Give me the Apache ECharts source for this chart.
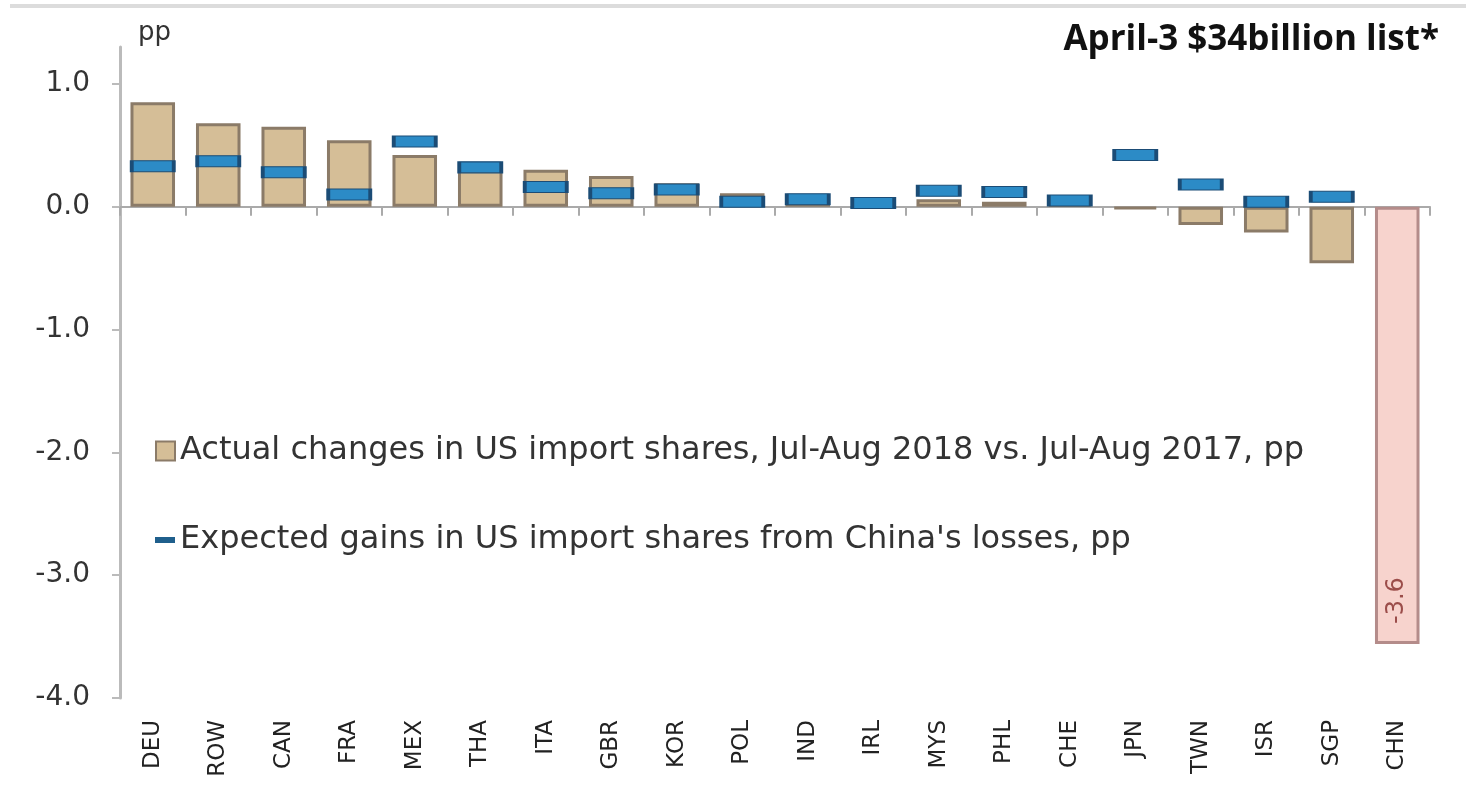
<!DOCTYPE html>
<html>
<head>
<meta charset="utf-8">
<script src="https://cdn.jsdelivr.net/npm/echarts@6/dist/echarts.min.js"></script>
<style>
html, body { margin: 0; padding: 0; background: #fff; }
#chart { width: 1466px; height: 788px; }
</style>
</head>
<body>
<div id="chart"></div>
<script>
var countries = ['DEU', 'ROW', 'CAN', 'FRA', 'MEX', 'THA', 'ITA', 'GBR', 'KOR', 'POL',
	'IND', 'IRL', 'MYS', 'PHL', 'CHE', 'JPN', 'TWN', 'ISR', 'SGP', 'CHN'];
var actualChange = [0.85, 0.68, 0.65, 0.54, 0.42, 0.35, 0.30, 0.25, 0.19, 0.11,
	0.09, 0.05, 0.06, 0.04, 0.02, -0.02, -0.15, -0.21, -0.46, -3.56];
var expectedGain = [0.33, 0.37, 0.28, 0.10, 0.53, 0.32, 0.16, 0.11, 0.14, 0.04,
	0.06, 0.03, 0.13, 0.12, 0.05, 0.42, 0.18, 0.04, 0.08, '-'];
var yTicks = [-4, -3, -2, -1, 0, 1];

var actualName = 'Actual changes in US import shares, Jul-Aug 2018 vs. Jul-Aug 2017, pp';
var expectedName = 'Expected gains in US import shares from China\'s losses, pp';

var chart = echarts.init(document.getElementById('chart'));

var barData = actualChange.map(function(v, i) {
	if (countries[i] == 'CHN') {
		return {
			value: v,
			itemStyle: { color: '#f7d3cd', borderColor: '#b48c8a' },
			label: {
				show: true,
				position: 'insideBottom',
				rotate: 90,
				align: 'left',
				verticalAlign: 'middle',
				distance: 20,
				fontSize: 24,
				color: '#9b4d4a',
				fontFamily: 'DejaVu Sans',
				formatter: function(p) { return p.value.toFixed(1); }
			}
		};
	}
	return v;
});

chart.setOption({
	animation: false,
	textStyle: { fontFamily: 'DejaVu Sans' },
	title: {
		text: 'April-3 $34billion list*',
		right: 22,
		top: 18,
		textStyle: { fontSize: 35, fontWeight: 'bold', color: '#111', fontFamily: 'Open Sans' }
	},
	graphic: [{
		type: 'line',
		shape: { x1: 10, y1: 6, x2: 1466, y2: 6 },
		style: { stroke: '#dcdcdc', lineWidth: 4 }
	}],
	legend: [{
		data: [{ name: actualName, icon: 'rect' }],
		left: 150,
		top: 430,
		itemWidth: 19,
		itemHeight: 19,
		itemGap: 10,
		textStyle: { fontSize: 32, color: '#333', fontFamily: 'DejaVu Sans' }
	}, {
		data: [{ name: expectedName, icon: 'rect', itemStyle: { color: '#1f5f8c', borderWidth: 0 } }],
		left: 150,
		top: 519,
		itemWidth: 20,
		itemHeight: 6,
		itemGap: 10,
		textStyle: { fontSize: 32, color: '#333', fontFamily: 'DejaVu Sans' }
	}],
	grid: { left: 120, right: 36, top: 47, bottom: 90 },
	xAxis: [{
		type: 'category',
		data: countries,
		position: 'bottom',
		axisLine: { show: false, onZero: false },
		axisTick: { show: false },
		axisLabel: { rotate: 90, fontSize: 23, color: '#222', margin: 22, interval: 0 }
	}, {
		type: 'category',
		data: countries,
		position: 'bottom',
		axisLine: { show: true, onZero: true, lineStyle: { color: '#aaa', width: 2 } },
		axisTick: { show: true, length: 9, lineStyle: { color: '#aaa', width: 2 } },
		axisLabel: { show: false }
	}],
	yAxis: {
		type: 'value',
		min: yTicks[0],
		max: 1.3,
		interval: 1,
		name: 'pp',
		nameLocation: 'end',
		nameGap: 1,
		nameTextStyle: { fontSize: 26, color: '#333', align: 'left', padding: [0, 0, 0, 18] },
		axisLine: { show: true, lineStyle: { color: '#bbb', width: 3 } },
		axisTick: { show: true, length: 8, lineStyle: { color: '#bbb', width: 2 } },
		splitLine: { show: false },
		axisLabel: {
			fontSize: 28,
			color: '#333',
			margin: 30,
			showMaxLabel: false,
			formatter: function(v) { return yTicks.indexOf(v) >= 0 ? v.toFixed(1) : ''; }
		}
	},
	series: [{
		name: actualName,
		type: 'bar',
		xAxisIndex: 0,
		data: barData,
		barWidth: '68%',
		itemStyle: { color: '#d5be97', borderColor: '#8b7b68', borderWidth: 3 }
	}, {
		name: expectedName,
		type: 'scatter',
		xAxisIndex: 0,
		data: expectedGain,
		symbol: 'rect',
		symbolSize: [42, 11],
		itemStyle: { color: '#2c8bc6', borderColor: '#1b4c76', borderWidth: 2, opacity: 1 },
		z: 5
	}]
});
</script>
</body>
</html>
